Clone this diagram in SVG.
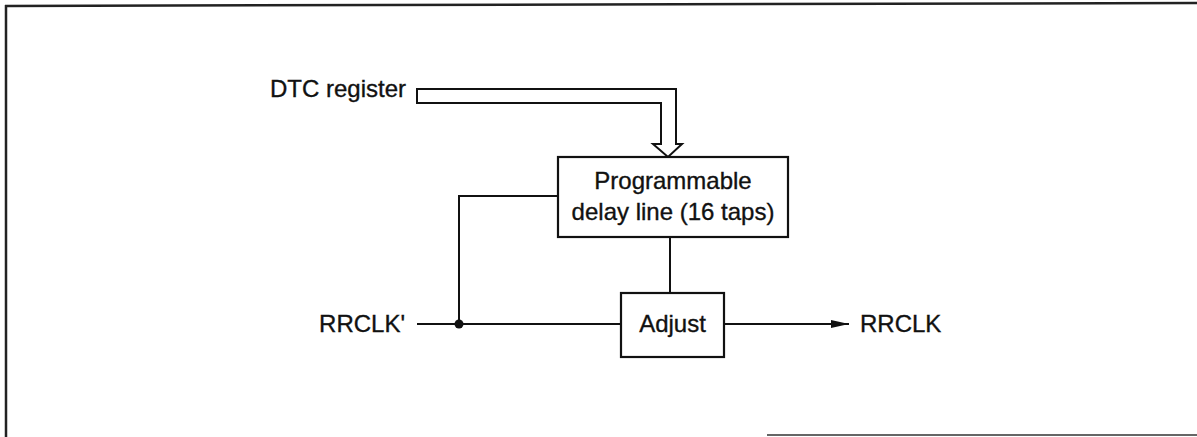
<svg xmlns="http://www.w3.org/2000/svg" width="1197" height="437" viewBox="0 0 1197 437">
<style>
  .ln { fill: none; stroke: #111; stroke-width: 2; }
  .box { fill: #fff; stroke: #111; stroke-width: 2.2; }
  .txt { font-family: "Liberation Sans", Arial, sans-serif; font-size: 24px; fill: #111; stroke: #111; stroke-width: 0.35; }
  .frame { fill: none; stroke: #222; stroke-width: 2.5; }
</style>
<defs>
  <marker id="arr" viewBox="0 0 18 10" refX="18" refY="5" markerWidth="18" markerHeight="10" markerUnits="userSpaceOnUse" orient="auto">
    <path d="M0,1 L18,5 L0,9 Z" fill="#111"/>
  </marker>
</defs>
<g id="frame">
  <line class="frame" x1="5" y1="6" x2="1197" y2="3"/>
  <line class="frame" x1="6" y1="5" x2="6" y2="437"/>
  <line x1="767" y1="435" x2="1197" y2="435" stroke="#666" stroke-width="2"/>
</g>
<g id="connectors">
  <path class="ln" d="M417,89 H676 V144 H682 L668,157 L653,144 H661 V103 H417 Z" fill="#fff"/>
  <path class="ln" d="M558,196 H459 V324"/>
  <line class="ln" x1="417" y1="324" x2="621" y2="324"/>
  <circle cx="459" cy="324" r="4.5" fill="#111"/>
  <line class="ln" x1="670" y1="237" x2="670" y2="293"/>
  <line class="ln" x1="724" y1="324" x2="849" y2="324" marker-end="url(#arr)"/>
</g>
<g id="dtc">
  <text class="txt" x="406" y="97" text-anchor="end">DTC register</text>
</g>
<g id="delay">
  <rect class="box" x="558" y="157" width="230" height="80"/>
  <text class="txt" x="673" y="189" text-anchor="middle">Programmable</text>
  <text class="txt" x="673" y="220" text-anchor="middle">delay line (16 taps)</text>
</g>
<g id="adjust">
  <rect class="box" x="621" y="293" width="103" height="64"/>
  <text class="txt" x="672.5" y="332" text-anchor="middle">Adjust</text>
</g>
<g id="rrclk-in">
  <text class="txt" x="405" y="332" text-anchor="end">RRCLK'</text>
</g>
<g id="rrclk-out">
  <text class="txt" x="860" y="332">RRCLK</text>
</g>
</svg>
